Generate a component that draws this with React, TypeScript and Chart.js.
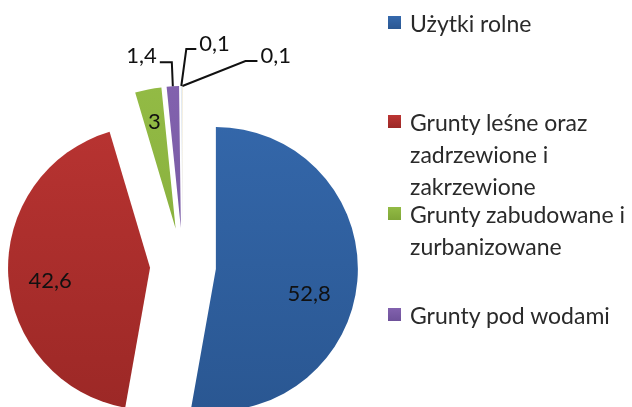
import React, { useEffect, useRef } from "react";
import { Chart, registerables } from "chart.js";

Chart.register(...registerables);

// ---- data ----
const categories = [
  "Użytki rolne",
  "Grunty leśne oraz zadrzewione i zakrzewione",
  "Grunty zabudowane i zurbanizowane",
  "Grunty pod wodami",
  "Użytki ekologiczne",
  "Nieużytki",
];
const shares = [52.8, 42.6, 3, 1.4, 0.1, 0.1];
const valueLabels = ["52,8", "42,6", "3", "1,4", "0,1", "0,1"];
const legendLines = [
  ["Użytki rolne"],
  ["Grunty leśne oraz", "zadrzewione i", "zakrzewione"],
  ["Grunty zabudowane i", "zurbanizowane"],
  ["Grunty pod wodami"],
];

// ---- styles / layout ----
const topColors = ["#3569AD", "#BC3533", "#93BB45", "#8262AE", "#DCE6F0", "#F2EBD8"];
const bottomColors = ["#2A5792", "#9C2826", "#7FA637", "#6E519A", "#CBD7E6", "#E8DEC4"];
const explode = [33, 33, 38, 38, 38, 38];
// inside labels: radius fraction and angle nudge (deg)
const insideLabel: Record<number, { f: number; da: number }> = {
  0: { f: 0.68, da: 10 },
  1: { f: 0.71, da: -4 },
  2: { f: 0.77, da: 0 },
};
// callouts: elbow and end offsets from the slice's outer mid point
const callouts: Record<number, { elbow: [number, number]; end: [number, number]; side: "left" | "right" }> = {
  3: { elbow: [-1, -24], end: [-13, -24], side: "left" },
  4: { elbow: [5, -37], end: [15, -37], side: "right" },
  5: { elbow: [63, -25], end: [75, -25], side: "right" },
};
const legendCenters = [23, 122, 214, 315];
const FONT = "Lato, 'Open Sans', sans-serif";

const explodePlugin = {
  id: "explodeSlices",
  afterDatasetsUpdate(chart: any) {
    const meta = chart.getDatasetMeta(0);
    meta.data.forEach((arc: any, i: number) => {
      const mid = (arc.startAngle + arc.endAngle) / 2;
      arc.x += Math.cos(mid) * explode[i];
      arc.y += Math.sin(mid) * explode[i];
    });
  },
};

const labelPlugin = {
  id: "valueLabels",
  afterDatasetsDraw(chart: any) {
    const ctx = chart.ctx;
    const meta = chart.getDatasetMeta(0);
    ctx.save();
    ctx.font = `22px ${FONT}`;
    ctx.fillStyle = "#111";
    ctx.strokeStyle = "#111";
    ctx.lineWidth = 2;
    meta.data.forEach((arc: any, i: number) => {
      const mid = (arc.startAngle + arc.endAngle) / 2;
      const r = arc.outerRadius;
      if (insideLabel[i]) {
        const a = mid + (insideLabel[i].da * Math.PI) / 180;
        const d = r * insideLabel[i].f;
        ctx.textAlign = "center";
        ctx.textBaseline = "middle";
        ctx.fillText(valueLabels[i], arc.x + Math.cos(a) * d, arc.y + Math.sin(a) * d);
      } else if (callouts[i]) {
        const c = callouts[i];
        const ox = arc.x + Math.cos(mid) * r;
        const oy = arc.y + Math.sin(mid) * r;
        const ex = ox + c.elbow[0];
        const ey = oy + c.elbow[1];
        const tx = ox + c.end[0];
        const ty = oy + c.end[1];
        ctx.beginPath();
        ctx.moveTo(ox, oy);
        ctx.lineTo(ex, ey);
        ctx.lineTo(tx, ty);
        ctx.stroke();
        ctx.textBaseline = "middle";
        if (c.side === "left") {
          ctx.textAlign = "right";
          ctx.fillText(valueLabels[i], tx - 3, ty - 6);
        } else {
          ctx.textAlign = "left";
          ctx.fillText(valueLabels[i], tx + 3, ty - 5);
        }
      }
    });
    ctx.restore();
  },
};

export default function App() {
  const ref = useRef<HTMLCanvasElement | null>(null);

  useEffect(() => {
    if (!ref.current) return;
    const chart = new Chart(ref.current, {
      type: "pie",
      data: {
        labels: categories,
        datasets: [
          {
            data: shares,
            borderWidth: 0,
            clip: false as any,
            backgroundColor: (c: any) => {
              const i = c.dataIndex ?? 0;
              const g = c.chart.ctx.createLinearGradient(0, 80, 0, 410);
              g.addColorStop(0, topColors[i]);
              g.addColorStop(1, bottomColors[i]);
              return g;
            },
          },
        ],
      },
      options: {
        animation: false,
        responsive: true,
        maintainAspectRatio: false,
        radius: 142,
        layout: { padding: { left: 0, right: 266, top: 125, bottom: 0 } },
        plugins: {
          legend: { display: false },
          tooltip: { enabled: false },
        },
      } as any,
      plugins: [explodePlugin, labelPlugin],
    });
    return () => chart.destroy();
  }, []);

  return (
    <div
      style={{
        position: "fixed",
        left: 0,
        top: 0,
        width: 632,
        height: 407,
        background: "#fff",
        overflow: "hidden",
        fontFamily: FONT,
      }}
    >
      <canvas ref={ref} style={{ position: "absolute", left: 0, top: 0 }} />
      {legendLines.map((lines, i) => (
        <div
          key={i}
          style={{
            position: "absolute",
            left: 388,
            top: legendCenters[i] - 16,
            display: "flex",
            alignItems: "flex-start",
          }}
        >
          <span
            style={{
              width: 13,
              height: 13,
              marginTop: 9,
              marginRight: 9,
              background: `linear-gradient(${topColors[i]}, ${bottomColors[i]})`,
              flex: "none",
            }}
          />
          <div style={{ fontSize: 23, lineHeight: "32px", color: "#2a2a2a", whiteSpace: "nowrap" }}>
            {lines.map((l, j) => (
              <div key={j}>{l}</div>
            ))}
          </div>
        </div>
      ))}
    </div>
  );
}
